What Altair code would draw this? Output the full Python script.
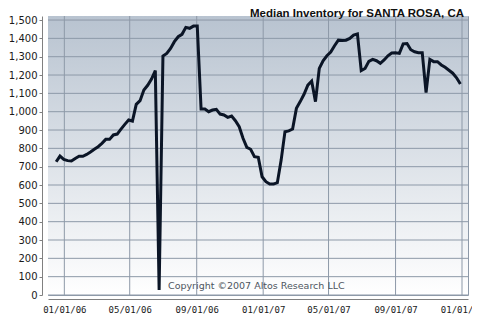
import altair as alt
import pandas as pd

title_text = "Median Inventory for SANTA ROSA, CA"
copyright_text = "Copyright \u00a92007 Altos Research LLC"

start_date = "2005-12-17"
values = [
    727, 758, 740, 733, 731, 745, 757, 757, 767, 780,
    795, 809, 827, 849, 849, 873, 878, 905, 931, 955,
    949, 1040, 1060, 1118, 1144, 1178, 1224, 27, 1304, 1318,
    1345, 1382, 1409, 1422, 1460, 1455, 1467, 1467, 1015, 1015,
    1000, 1009, 1013, 987, 982, 969, 976, 951, 918, 855,
    805, 795, 755, 751, 645, 618, 605, 605, 613, 736,
    891, 895, 905, 1018, 1055, 1095, 1145, 1167, 1055, 1236,
    1278, 1305, 1325, 1360, 1390, 1388, 1390, 1400, 1418, 1424,
    1224, 1236, 1275, 1285, 1278, 1264, 1282, 1305, 1320, 1322,
    1318, 1370, 1372, 1338, 1327, 1322, 1322, 1104, 1285, 1273,
    1273, 1255, 1242, 1226, 1210, 1185, 1151,
]
y_ticks = list(range(0, 1600, 100))
x_tick_dates = ["2006-01-01", "2006-05-01", "2006-09-01", "2007-01-01",
                "2007-05-01", "2007-09-01", "2008-01-01"]

W, H = 420, 279
GRID = "#8d99a8"

dates = pd.date_range(start_date, periods=len(values), freq="7D")
df = pd.DataFrame({"date": dates.strftime("%Y-%m-%dT00:00:00"), "value": values})
xt = pd.DataFrame({"date": [d + "T00:00:00" for d in x_tick_dates]})
yt = pd.DataFrame({"value": y_ticks})

x_vals = [alt.DateTime(year=int(d[:4]), month=int(d[5:7]), date=1) for d in x_tick_dates]

x_scale = alt.Scale(domain=[alt.DateTime(year=2005, month=12, date=2),
                            alt.DateTime(year=2008, month=1, date=12)], nice=False)
y_scale = alt.Scale(domain=[0, 1522], nice=False, zero=False)

x_axis = alt.Axis(values=x_vals, format="%m/%d/%y", title=None, offset=4,
                  ticks=False, labelPadding=6, labelFont="DejaVu Sans Mono",
                  labelFontSize=9, labelColor="#1a1a1a", labelOverlap=False,
                  domainColor="#808080", grid=False, labelBound=False, labelFlush=False)
y_axis = alt.Axis(values=y_ticks, format=",", labelExpr="format(datum.value, ',')",
                  title=None, offset=6,
                  tickSize=3, tickColor="#808080", labelPadding=2,
                  labelFont="DejaVu Sans", labelFontSize=10, labelColor="#1a1a1a",
                  domainColor="#808080", grid=False)

bg = alt.Chart(pd.DataFrame({"a": [0]})).mark_rect(
    color=alt.Gradient(gradient="linear", x1=0, x2=0, y1=0, y2=1,
                       stops=[alt.GradientStop(offset=0, color="#b8c3d0"),
                              alt.GradientStop(offset=1, color="#ffffff")])
).encode(x=alt.value(0), x2=alt.value(W), y=alt.value(0), y2=alt.value(H))

ygrid = alt.Chart(yt).mark_rule(color=GRID, strokeWidth=1).encode(
    y=alt.Y("value:Q", scale=y_scale, axis=y_axis),
    x=alt.value(0), x2=alt.value(W))

xgrid = alt.Chart(xt).mark_rule(color=GRID, strokeWidth=1).encode(
    x=alt.X("date:T", scale=x_scale, axis=x_axis),
    y=alt.value(0), y2=alt.value(H))

line = alt.Chart(df).mark_line(color="#0b1526", strokeWidth=3, strokeJoin="miter", clip=True).encode(
    x=alt.X("date:T", scale=x_scale, axis=x_axis),
    y=alt.Y("value:Q", scale=y_scale, axis=y_axis),
)

copy = alt.Chart(pd.DataFrame({"t": [copyright_text]})).mark_text(
    align="left", baseline="middle", font="DejaVu Sans", fontSize=9.5, color="#4d5560"
).encode(text="t:N", x=alt.value(120), y=alt.value(270))

title = alt.Chart(pd.DataFrame({"t": [title_text]})).mark_text(
    align="right", baseline="alphabetic", font="Liberation Sans", fontSize=11.5,
    fontWeight="bold", color="#111111"
).encode(text="t:N", x=alt.value(W - 4), y=alt.value(0.5))

chart = alt.layer(bg, ygrid, xgrid, line, copy, title).properties(
    width=W, height=H,
    autosize=alt.AutoSizeParams(type="none"),
    padding={"left": 40, "top": 8, "right": 4, "bottom": 25},
).configure_view(stroke=GRID)

chart.save("out.html", embed_options={"renderer": "svg", "actions": False})
